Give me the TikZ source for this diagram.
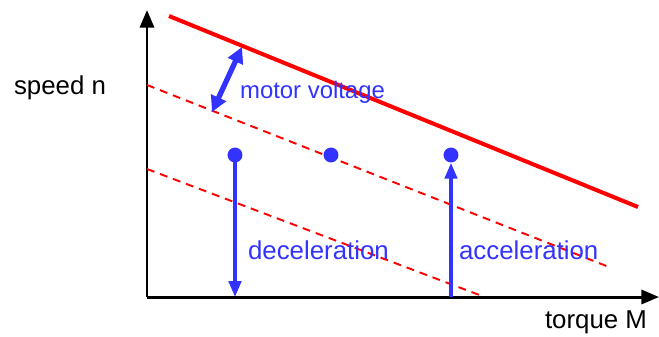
\documentclass[tikz,border=0pt]{standalone}
\usepackage{fontspec}
\setmainfont{Liberation Sans}
\usepackage{tikz}
\usetikzlibrary{arrows.meta}

\definecolor{opblue}{RGB}{51,51,255}
\definecolor{linered}{RGB}{255,0,0}

\tikzset{
  axisline/.style={line width=1.7pt, -{Triangle[length=10pt, width=8pt]}},
  charline/.style={linered, line width=2.3pt},
  shiftline/.style={linered, line width=1.1pt, dash pattern=on 4.5pt off 3.4pt},
  opdot/.style={circle, fill=opblue, inner sep=0pt, minimum size=8.5pt},
  moveline/.style={opblue, line width=2pt, -{Triangle[length=9pt, width=7pt]}},
  bluelabel/.style={text=opblue, font=\fontsize{14.7}{17}\selectfont, inner sep=1pt}
}

\begin{document}
\begin{tikzpicture}[x=0.02cm, y=-0.02cm]
  \useasboundingbox (0,0) rectangle (659,336);
  % axes
  \coordinate (origin) at (147,297);
  \coordinate (ytip) at (147,10);
  \coordinate (xtip) at (659,297);
  \draw[axisline] (origin) -- (ytip);
  \draw[axisline] (origin) -- (xtip);
  \node[font=\fontsize{14.7}{17}\selectfont] (ylabel) at (60,88) {speed n};
  \node[font=\fontsize{14.7}{17}\selectfont] (xlabel) at (596,322) {torque M};
  % characteristic lines
  \coordinate (full0) at (169,16);
  \coordinate (full1) at (638,207);
  \draw[charline] (full0) -- (full1);
  \coordinate (mid0) at (147,85);
  \coordinate (mid1) at (609,267);
  \draw[shiftline] (mid0) -- (mid1);
  \coordinate (low0) at (147,169);
  \coordinate (low1) at (482,296);
  \draw[shiftline] (low0) -- (low1);
  % voltage change
  \coordinate (vlow) at (212,112);
  \coordinate (vhigh) at (242,47);
  \draw[opblue, line width=3pt, {Triangle[length=9pt, width=9pt]}-{Triangle[length=9pt, width=9pt]}] (vlow) -- (vhigh);
  \node[bluelabel, font=\fontsize{13.6}{16}\selectfont, anchor=west] (vlabel) at (238,92) {motor voltage};
  % operating points
  \node[opdot] (dec) at (235,155) {};
  \node[opdot] (op) at (331,155) {};
  \node[opdot] (acc) at (451,155) {};
  \coordinate (decfoot) at (235,297);
  \coordinate (accfoot) at (451,297);
  \draw[moveline] (dec.center) -- (decfoot);
  \draw[moveline] (accfoot) -- (acc.south);
  \node[bluelabel, anchor=west] (declabel) at (246,250) {deceleration};
  \node[bluelabel, anchor=west] (acclabel) at (457,250) {acceleration};
\end{tikzpicture}
\end{document}
